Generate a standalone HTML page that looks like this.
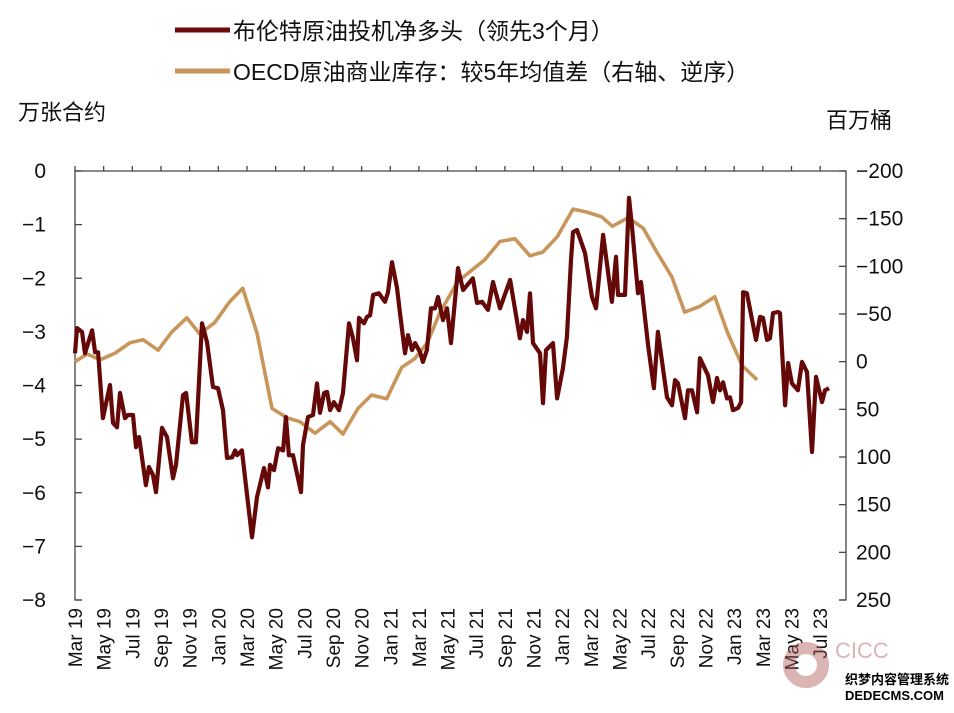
<!DOCTYPE html>
<html><head><meta charset="utf-8"><style>
body{margin:0;background:#fff;}
svg text{font-family:"Liberation Sans","Noto Sans CJK SC",sans-serif;}
</style></head><body>
<svg id="chart" width="954" height="708" viewBox="0 0 954 708" xmlns="http://www.w3.org/2000/svg">
<g>
 <line x1="175" y1="30" x2="230" y2="30" stroke="#6b0a0a" stroke-width="5"/>
 <text x="233" y="39" font-size="23" fill="#111">布伦特原油投机净多头（领先3个月）</text>
 <line x1="175" y1="71" x2="230" y2="71" stroke="#c8965a" stroke-width="5"/>
 <text x="233" y="80" font-size="23" fill="#111">OECD原油商业库存：较5年均值差（右轴、逆序）</text>
</g>
<text x="18" y="120" font-size="22" fill="#111">万张合约</text>
<text x="826" y="128" font-size="22" fill="#111">百万桶</text>
<g id="axes"></g>
<g id="series"></g>
<g opacity="0.45">
 <circle cx="806" cy="665" r="17" fill="none" stroke="#b05a5a" stroke-width="12"/>
 <text x="835" y="658" font-size="22" fill="#b05a5a">CICC</text>
</g>
<text x="845" y="684" font-size="13" font-weight="bold" fill="#000">织梦内容管理系统</text>
<text x="845" y="700" font-size="13" font-weight="bold" fill="#000">DEDECMS.COM</text>
</svg>
<script>
const monthLabels=["Mar 19","May 19","Jul 19","Sep 19","Nov 19","Jan 20","Mar 20","May 20","Jul 20","Sep 20","Nov 20","Jan 21","Mar 21","May 21","Jul 21","Sep 21","Nov 21","Jan 22","Mar 22","May 22","Jul 22","Sep 22","Nov 22","Jan 23","Mar 23","May 23","Jul 23"];
const leftTicks=[0,-1,-2,-3,-4,-5,-6,-7,-8];
const rightTicks=[-200,-150,-100,-50,0,50,100,150,200,250];
// months since Mar 2019
const netLongMonths=[0,.14,.49,.7,1.19,1.4,1.61,1.95,2.44,2.65,2.93,3.14,3.49,3.7,4.05,4.26,4.47,4.95,5.16,5.44,5.65,6.07,6.42,6.84,7.05,7.54,7.75,8.16,8.44,8.86,9.21,9.63,9.98,10.33,10.61,10.96,11.17,11.31,11.65,11.86,12.35,12.7,13.19,13.47,13.61,13.89,14.17,14.52,14.72,14.93,15.21,15.77,15.91,16.26,16.61,16.89,17.1,17.38,17.59,17.8,18.07,18.42,18.7,19.12,19.4,19.68,19.82,20.17,20.38,20.59,20.8,21.21,21.63,21.84,22.12,22.47,22.68,23.03,23.24,23.52,23.73,24.08,24.28,24.56,24.84,25.12,25.33,25.68,25.96,26.24,
26.73,27.08,27.77,28.05,28.4,28.82,29.17,29.66,30.36,31.05,31.26,31.54,31.75,31.96,32.45,32.66,32.87,33.36,33.64,34.05,34.33,34.61,34.75,35.03,35.59,36.08,36.36,36.85,37.13,37.47,37.75,37.89,38.38,38.66,38.87,39.29,39.5,39.99,40.4,40.68,41.31,41.66,41.87,42.08,42.57,42.78,43.06,43.41,43.61,44.17,44.52,44.8,45.01,45.22,45.5,45.71,45.92,46.27,46.48,46.62,46.89,47.52,47.8,48.01,48.29,48.5,48.71,49.06,49.2,49.55,49.76,50.03,50.45,50.73,51.08,51.43,51.71,52.13,52.34,52.62];
const netLongValues=[-3.40,-2.93,-3.00,-3.40,-2.97,-3.38,-3.38,-4.61,-3.99,-4.70,
-4.78,-4.14,-4.61,-4.55,-4.55,-5.15,-4.96,-5.86,-5.52,-5.67,
-5.99,-4.79,-4.96,-5.73,-5.48,-4.18,-4.14,-5.06,-5.06,-2.84,
-3.19,-4.03,-4.05,-4.46,-5.35,-5.34,-5.21,-5.30,-5.21,-5.71,
-6.83,-6.08,-5.54,-5.90,-5.48,-5.58,-5.17,-5.21,-4.59,-5.30,
-5.30,-5.99,-5.11,-4.59,-4.55,-3.96,-4.51,-4.14,-4.12,-4.46,
-4.31,-4.46,-4.14,-2.84,-3.12,-3.53,-2.74,-2.84,-2.72,-2.69,
-2.31,-2.28,-2.44,-2.26,-1.70,-2.18,-2.65,-3.40,-3.06,-3.34,
-3.21,-3.38,-3.56,-3.34,-2.56,-2.56,-2.35,-2.78,-2.56,-3.21,
-1.81,-2.22,-2.00,-2.46,-2.44,-2.59,-2.07,-2.56,-2.03,-3.12,
-2.78,-3.00,-2.28,-3.21,-3.40,-4.33,-3.34,-3.21,-4.24,-3.68,
-3.10,-1.66,-1.14,-1.10,-1.53,-2.35,-2.56,-1.19,-1.75,-2.44,
-1.60,-2.31,-2.31,-0.50,-1.04,-2.28,-2.07,-3.25,-4.05,-3.00,
-4.22,-4.37,-3.90,-3.96,-4.61,-4.09,-4.09,-4.50,-3.49,-3.81,
-4.31,-3.86,-4.09,-3.94,-4.24,-4.22,-4.46,-4.42,-4.31,-2.26,
-2.28,-3.15,-2.72,-2.74,-3.15,-3.12,-2.65,-2.63,-2.65,-4.37,
-3.58,-3.96,-4.09,-3.56,-3.75,-5.24,-3.84,-4.31,-4.09,-4.05];
const oecdMonths=[0,0.85,1.75,2.8,3.85,4.75,5.8,6.75,7.8,8.7,9.75,10.8,11.7,12.7,13.75,14.8,15.7,16.75,17.8,18.7,19.75,20.7,21.75,22.8,23.7,24.6,25.45,26.7,28.6,29.65,30.7,31.75,32.65,33.65,34.75,35.7,36.75,37.5,38.6,39.65,40.6,41.65,42.55,43.6,44.65,45.55,46.55,47.6];
const oecdValues=[0,-8,-2,-9,-20,-23,-12,-31,-46,-29,-41,-63,-77,-30,49,59,63,75,63,76,49,35,39,6,-3,-20,-51,-84,-107,-126,-129,-111,-115,-131,-160,-157,-152,-142,-151,-140,-115,-89,-52,-58,-68,-30,4,19];

const NS="http://www.w3.org/2000/svg";
const X0=75,X1=846,YT=171,YB=600,MPX=14.33;
const xS=m=>X0+m*MPX;
const yL=v=>YT+(0-v)/8*(YB-YT);
const yR=v=>YT+(v+200)/450*(YB-YT);
function mk(tag,attrs,parent){const e=document.createElementNS(NS,tag);for(const k in attrs)e.setAttribute(k,attrs[k]);parent.appendChild(e);return e;}
const axes=document.getElementById('axes');
let e;
e=mk('path',{d:`M${X0+7},${YB}H${X0}V${YT}H${X1}V${YB}H${X1-7}`,fill:'none',stroke:'#444','stroke-width':1.3},axes);


leftTicks.forEach(v=>{
 const y=yL(v);
 e=mk('line',{x1:X0,x2:X0+7,y1:y,y2:y,stroke:'#444','stroke-width':1.3},axes);
 
 
 e=mk('text',{x:46,y:y+7,'text-anchor':'end','font-size':21,fill:'#111'},axes);
 e.textContent=v<0?'\u2212'+(-v):String(v);
 
 
});
rightTicks.forEach(v=>{
 const y=yR(v);
 e=mk('line',{x1:X1-7,x2:X1,y1:y,y2:y,stroke:'#444','stroke-width':1.3},axes);
 
 
 e=mk('text',{x:856,y:y+7,'font-size':21,fill:'#111'},axes);
 e.textContent=v<0?'\u2212'+(-v):String(v);
 
 
});
monthLabels.forEach((lab,i)=>{
 const x=xS(i*2);
 e=mk('line',{x1:x,x2:x,y1:YT,y2:YT-5,stroke:'#444','stroke-width':1.3},axes);
 
 
 e=mk('text',{x:0,y:0,'text-anchor':'end','font-size':19,fill:'#111',transform:`translate(${x+7},${608}) rotate(-90)`},axes);
 e.textContent=lab;
 
 
});
const series=document.getElementById('series');
const pOecd=oecdMonths.map((m,i)=>xS(m).toFixed(1)+','+yR(oecdValues[i]).toFixed(1)).join(' ');
e=mk('polyline',{points:pOecd,fill:'none',stroke:'#c8965a','stroke-width':3.6,'stroke-linejoin':'round'},series);


const pNet=netLongMonths.map((m,i)=>xS(m).toFixed(1)+','+yL(netLongValues[i]).toFixed(1)).join(' ');
e=mk('polyline',{points:pNet,fill:'none',stroke:'#650808','stroke-width':4.2,'stroke-linejoin':'round'},series);


</script>
</body></html>
